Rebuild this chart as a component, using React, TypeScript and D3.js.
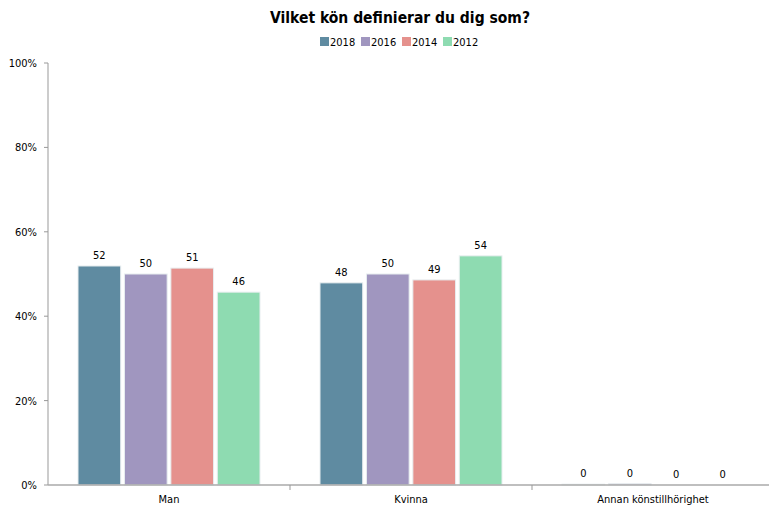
import React from "react";
import * as d3 from "d3";

const categories = ["Man", "Kvinna", "Annan könstillhörighet"];
const series = ["2018", "2016", "2014", "2012"];
const values2018 = [51.9, 47.9, 0.2];
const values2016 = [50.0, 50.0, 0.3];
const values2014 = [51.4, 48.6, 0];
const values2012 = [45.7, 54.3, 0];
const labels2018 = ["52", "48", "0"];
const labels2016 = ["50", "50", "0"];
const labels2014 = ["51", "49", "0"];
const labels2012 = ["46", "54", "0"];
const colors = ["#5F8BA1", "#A096BF", "#E5918D", "#8EDBB1"];
const yTicks = [0, 20, 40, 60, 80, 100];

const W = 769, H = 511;
const left = 48, right = 774, top = 63, bottom = 485;
const font = "'DejaVu Sans Condensed', 'DejaVu Sans', sans-serif";

export default function App() {
  const allValues = [values2018, values2016, values2014, values2012];
  const allLabels = [labels2018, labels2016, labels2014, labels2012];
  const x0 = d3.scaleBand().domain(categories).range([left, right]).paddingInner(0).paddingOuter(0);
  const y = d3.scaleLinear().domain([0, 100]).range([bottom, top]);
  const inner = 30;
  const x1 = d3.scaleBand().domain(series).range([inner, x0.bandwidth() - inner]).paddingInner(0.08).paddingOuter(0);

  return (
    <svg width={W} height={H} style={{ position: "absolute", left: 0, top: 0, fontFamily: font, fontStretch: "condensed" }}>
      <rect width={W} height={H} fill="#fff" />
      <text x={400} y={23} textAnchor="middle" fontSize={15.5} fontWeight="bold" fill="#000">
        Vilket kön definierar du dig som?
      </text>
      {series.map((s, i) => {
        const lx = 320 + i * 41;
        return (
          <g key={s}>
            <rect x={lx} y={37} width={9} height={9} fill={colors[i]} />
            <text x={lx + 10} y={46} fontSize={11} fill="#000">{s}</text>
          </g>
        );
      })}
      {/* y axis */}
      <line x1={left} x2={left} y1={top} y2={bottom} stroke="#999" />
      {yTicks.map((t) => (
        <g key={t}>
          <line x1={left - 4} x2={left} y1={y(t)} y2={y(t)} stroke="#999" />
          <text x={37} y={y(t) + 4} textAnchor="end" fontSize={11} fill="#000">{t}%</text>
        </g>
      ))}
      {/* bars */}
      {categories.map((c, ci) => (
        <g key={c} transform={`translate(${x0(c)},0)`}>
          {series.map((s, si) => {
            const v = allValues[si][ci];
            const bx = x1(s)!;
            return (
              <g key={s}>
                <rect x={bx} y={y(v)} width={x1.bandwidth()} height={bottom - y(v)} fill={colors[si]} stroke="#e8eef0" strokeWidth={1} />
                <text x={bx + x1.bandwidth() / 2} y={y(v) - 7} textAnchor="middle" fontSize={11} fill="#000">{allLabels[si][ci]}</text>
              </g>
            );
          })}
        </g>
      ))}
      {/* x axis */}
      <line x1={left} x2={W} y1={bottom} y2={bottom} stroke="#aaa" strokeWidth={1.5} />
      {categories.map((c, ci) => (
        <g key={c}>
          {ci > 0 && <line x1={x0(c)!} x2={x0(c)!} y1={bottom} y2={bottom + 5} stroke="#999" />}
          <text x={x0(c)! + x0.bandwidth() / 2} y={503} textAnchor="middle" fontSize={11} fill="#000">{c}</text>
        </g>
      ))}
    </svg>
  );
}
